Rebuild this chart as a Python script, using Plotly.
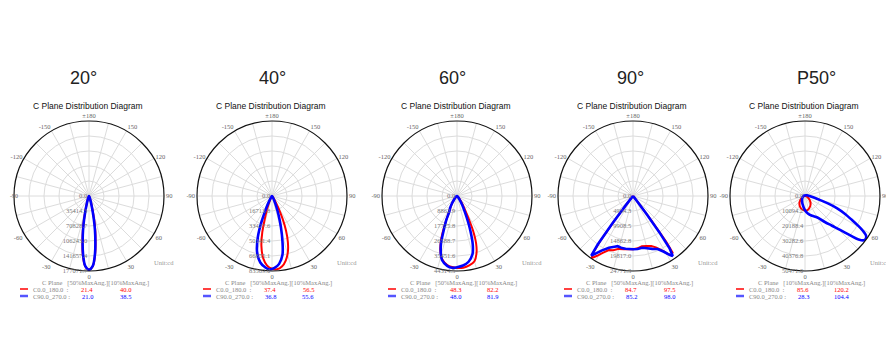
import plotly.graph_objects as go

# page body has an 8px margin, so the figure fills the rest of the 894x364 window
OFF = 8
W, H = 894 - OFF, 364 - OFF

# ---------------- data ----------------
panel_titles = ["20°", "40°", "60°", "90°", "P50°"]
radial_max = [177071.7, 83569.0, 44314.5, 24771.3, 50471.0]
radial_ticktext = [
    ["0.0", "35414.3", "70828.7", "106243.0", "141657.4", "177071.7"],
    ["0.0", "16713.8", "33427.6", "50141.4", "66855.1", "83569.0"],
    ["0.0", "8862.9", "17725.8", "26588.7", "35451.6", "44314.5"],
    ["0.0", "4954.3", "9908.5", "14862.8", "19817.0", "24771.3"],
    ["0.0", "10094.2", "20188.4", "30282.6", "40376.8", "50471.0"],
]
legend_headers = [
    "C Plane   [50%MaxAng.][10%MaxAng.]",
    "C Plane   [50%MaxAng.][10%MaxAng.]",
    "C Plane   [50%MaxAng.][10%MaxAng.]",
    "C Plane   [50%MaxAng.][10%MaxAng.]",
    "C Plane   [10%MaxAng.][10%MaxAng.]",
]
plane_names = ["C0.0_180.0  :", "C90.0_270.0 :"]
c0_ang50 = ["21.4", "37.4", "48.3", "84.7", "85.6"]
c0_ang10 = ["40.0", "56.5", "82.2", "97.5", "120.2"]
c90_ang50 = ["21.0", "36.8", "48.0", "85.2", "28.3"]
c90_ang10 = ["38.5", "55.6", "81.9", "98.0", "104.4"]

angle_ticks = list(range(0, 360, 15))
angle_ticktext = ["0", "", "30", "", "60", "", "90", "", "120", "", "150", "",
                  "±180", "", "-150", "", "-120", "", "-90", "", "-60", "", "-30", ""]

# 20°
p20_theta = [-40, -30, -25, -20, -16, -13, -11, -9, -6, -3, 0, 3, 6, 9, 11, 13, 16, 20, 25, 30, 40]
p20_c0 = [0, 890, 3540, 8850, 21250, 44270, 70830, 97390, 140000, 166450, 173530,
          166450, 138120, 98500, 74000, 47000, 22500, 8850, 3540, 890, 0]
p20_c90 = [0, 700, 3000, 7800, 19000, 41000, 67000, 94000, 136000, 166000, 174000,
           166000, 136000, 94000, 67000, 41000, 19000, 7800, 3000, 700, 0]

# 40°
p40_c0_theta = [-45, -30, -25, -20, -17, -15, -12, -8, -4, 0, 4, 8, 12, 16, 19, 22, 25, 28, 32, 40, 50]
p40_c0 = [0, 2510, 6690, 16710, 29250, 41780, 56830, 70200, 77720, 81060, 81900,
          79390, 73540, 64350, 54320, 41780, 27580, 15040, 6690, 1670, 0]
p40_c90_theta = [-45, -32, -28, -25, -22, -19, -15, -10, -5, -2, 2, 6, 10, 13, 16, 19, 22, 26, 32, 45]
p40_c90 = [0, 3340, 8360, 16710, 31760, 48470, 64350, 75210, 80230, 81900, 80230,
           76050, 66860, 51810, 35930, 22560, 12540, 5850, 1670, 0]

# 60°
p60_c0_theta = [-60, -50, -40, -35, -30, -26, -23, -20, -17, -13, -8, -4, 0, 5, 10, 15, 19, 22, 25, 27, 30, 35, 40, 50, 60]
p60_c0 = [0, 440, 2220, 4430, 7530, 11080, 18610, 27470, 33680, 38550, 41210, 42100,
          42540, 42540, 41660, 39880, 35450, 30130, 22160, 15510, 9750, 4870, 2660, 890, 0]
p60_c90_theta = [-60, -50, -40, -35, -30, -26, -24, -21, -18, -13, -8, -4, 0, 5, 10, 15, 18, 21, 23, 26, 30, 35, 45, 60]
p60_c90 = [0, 890, 2660, 4870, 7980, 10640, 15510, 22160, 31020, 39000, 41660, 42540,
           42100, 41210, 39440, 35450, 30130, 22160, 16840, 10640, 6200, 3100, 890, 0]

# 90°
p90_c0_theta = [-60, -45, -40, -38, -37, -36, -35, -33.5, -31, -28, -24, -20, -15, -10, -5, 0,
                5, 10, 15, 20, 24, 28, 31, 33, 35, 36, 37, 38, 40, 45, 60]
p90_c0 = [0, 120, 500, 2970, 9910, 18580, 23530, 24520, 23040, 21300, 19570, 19070, 18080,
          17840, 17590, 17590, 17340, 16840, 17090, 17590, 18580, 20310, 22290, 23290,
          22790, 18580, 9910, 2970, 500, 120, 0]
p90_c90_theta = [-60, -45, -40, -38, -37, -36, -35, -33.5, -30, -25, -20, -17, -12, -8, 0,
                 5, 10, 15, 20, 25, 29, 32, 33.5, 35, 36, 37, 38.5, 41, 45, 60]
p90_c90 = [0, 120, 500, 3720, 11150, 19820, 24030, 23040, 20810, 18830, 17840, 17340,
           17590, 17590, 17590, 17590, 17340, 17840, 18580, 19320, 21060, 23040, 23780,
           21060, 14860, 7430, 1980, 500, 120, 0]

# P50°
p50_c0_theta = [-180, -90, -70, -50, -35, -20, -5, 10, 20, 35, 50, 70, 90, 180]
p50_c0 = [0, 300, 1500, 4000, 6600, 8600, 9600, 9600, 8600, 6600, 4000, 1500, 300, 0]
p50_c90_theta = [-180, -90, -60, -30, -15, 0, 10, 20, 30, 37, 42, 46, 49, 51, 53, 55, 57,
                 59, 61, 63, 66, 69, 72, 75, 80, 90, 110, 150, 180]
p50_c90 = [500, 1000, 2000, 4000, 6000, 9600, 12100, 14100, 16700, 21700, 26700, 32800,
           40400, 46400, 49500, 50000, 49000, 45400, 40400, 35300, 29300, 23200, 16200,
           10600, 6100, 3000, 1500, 500, 500]

series = [
    (p20_theta, p20_c0, p20_theta, p20_c90, "spline"),
    (p40_c0_theta, p40_c0, p40_c90_theta, p40_c90, "spline"),
    (p60_c0_theta, p60_c0, p60_c90_theta, p60_c90, "spline"),
    (p90_c0_theta, p90_c0, p90_c90_theta, p90_c90, "linear"),
    (p50_c0_theta, p50_c0, p50_c90_theta, p50_c90, "spline"),
]

# ---------------- layout geometry (window pixels) ----------------
centers_x = [89, 272, 457, 633, 805]
center_y = 196
radius = 75
title_x = [83, 272, 452, 630, 816]

RED = "#ff0000"
BLUE = "#0000ff"
SERIF = "Liberation Serif, DejaVu Serif, serif"
SANS = "Liberation Sans, Arial, sans-serif"


def fx(x):
    return (x - OFF) / W


def fy(y):
    return 1 - (y - OFF) / H


fig = go.Figure()
layout = dict(
    width=W, height=H, autosize=False,
    margin=dict(l=0, r=0, t=0, b=0),
    paper_bgcolor="white", plot_bgcolor="white",
    showlegend=False,
)
annotations = []
shapes = []


def ann(x, y, text, size, color, family, xanchor="center"):
    annotations.append(dict(x=fx(x), y=fy(y), xref="paper", yref="paper",
                            text=text, showarrow=False, xanchor=xanchor,
                            yanchor="middle",
                            font=dict(size=size, color=color, family=family)))


for i in range(5):
    key = "polar" if i == 0 else f"polar{i + 1}"
    cx = centers_x[i]
    rmax = radial_max[i]
    step = rmax / 5
    ticktext = list(angle_ticktext)
    if i == 0:
        # the leftmost "-90" would fall past the page edge; drawn as a label below
        ticktext[angle_ticks.index(270)] = ""
    layout[key] = dict(
        domain=dict(x=[fx(cx - radius), fx(cx + radius)],
                    y=[fy(center_y + radius), fy(center_y - radius)]),
        bgcolor="white",
        radialaxis=dict(
            range=[0, rmax],
            tickvals=[0, step, 2 * step, 3 * step, 4 * step, 5 * step],
            ticktext=radial_ticktext[i],
            angle=-90,
            tickangle=-90,
            showline=False,
            ticks="",
            gridcolor="#dcdcdc", gridwidth=1,
            tickfont=dict(family=SERIF, size=6.5, color="#777777"),
        ),
        angularaxis=dict(
            rotation=270,
            direction="counterclockwise",
            tickmode="array",
            tickvals=angle_ticks,
            ticktext=ticktext,
            ticks="",
            showline=True, linecolor="#111111", linewidth=1.2,
            gridcolor="#dcdcdc", gridwidth=1,
            tickfont=dict(family=SERIF, size=6.5, color="#666666"),
        ),
    )
    t0, r0, t1, r1, shape = series[i]
    fig.add_trace(go.Scatterpolar(theta=t0, r=r0, mode="lines", subplot=key,
                                  line=dict(color=RED, width=2, shape=shape),
                                  hoverinfo="skip"))
    fig.add_trace(go.Scatterpolar(theta=t1, r=r1, mode="lines", subplot=key,
                                  line=dict(color=BLUE, width=2.6, shape=shape),
                                  hoverinfo="skip"))

    ann(title_x[i], 78, panel_titles[i], 18, "#222222", SANS)
    ann(cx - 1, 106, "C Plane Distribution Diagram", 8.5, "#111111", SANS)
    ann(cx + 63, 262, "Unit:cd", 6.5, "#999999", SERIF, "left")
    ann(cx + 6, 283, legend_headers[i], 6.5, "#888888", SERIF)
    ann(cx - 58, 289, plane_names[0], 6.5, "#888888", SERIF, "left")
    ann(cx - 58, 296, plane_names[1], 6.5, "#888888", SERIF, "left")
    ann(cx - 2, 289, c0_ang50[i], 6.5, RED, SERIF)
    ann(cx + 36, 289, c0_ang10[i], 6.5, RED, SERIF)
    ann(cx - 2, 296, c90_ang50[i], 6.5, BLUE, SERIF)
    ann(cx + 36, 296, c90_ang10[i], 6.5, BLUE, SERIF)
    shapes.append(dict(type="line", xref="paper", yref="paper",
                       x0=fx(cx - 69), x1=fx(cx - 61), y0=fy(289), y1=fy(289),
                       line=dict(color=RED, width=1.5)))
    shapes.append(dict(type="line", xref="paper", yref="paper",
                       x0=fx(cx - 69), x1=fx(cx - 61), y0=fy(296), y1=fy(296),
                       line=dict(color="#5555ff", width=2.5)))

# "-90" of the first diagram, kept inside the page
ann(8, 196, "-90", 6, "#666666", SERIF, "left")

layout["annotations"] = annotations
layout["shapes"] = shapes
fig.update_layout(**layout)
fig.write_html("out.html")
